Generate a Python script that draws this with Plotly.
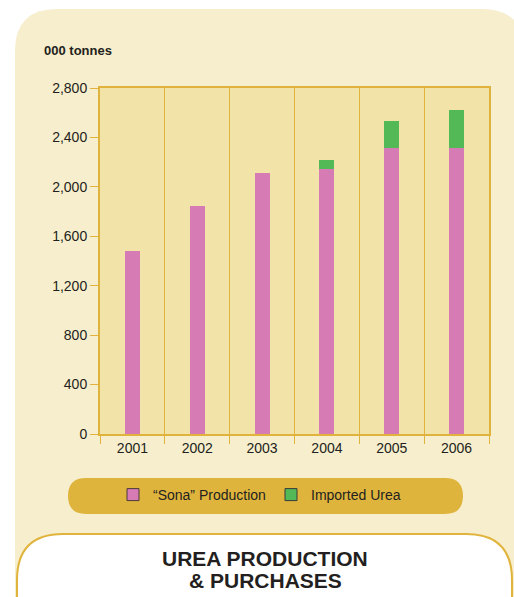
import plotly.graph_objects as go

years = ["2001", "2002", "2003", "2004", "2005", "2006"]
sona = [1480, 1845, 2112, 2144, 2314, 2314]
imported = [0, 0, 0, 73, 218, 307]
y_ticks = [0, 400, 800, 1200, 1600, 2000, 2400, 2800]

W, H = 514, 597
L, R, T, B = 100, 25, 88, 163
PINK = "#D67BB3"
GREEN = "#52B956"
GOLD = "#E0B43C"
CREAM = "#F7EECD"
PLOT_BG = "#F2E3A9"
TXT = "#231F20"


def px(x, y):
    # pixel position -> paper coordinates
    return (x - L) / (W - L - R), (H - B - y) / (H - T - B)


def rounded(x0, y0, x1, y1, r):
    pts = [
        ("M", [(x0 + r, y0)]), ("L", [(x1 - r, y0)]), ("Q", [(x1, y0), (x1, y0 + r)]),
        ("L", [(x1, y1 - r)]), ("Q", [(x1, y1), (x1 - r, y1)]), ("L", [(x0 + r, y1)]),
        ("Q", [(x0, y1), (x0, y1 - r)]), ("L", [(x0, y0 + r)]), ("Q", [(x0, y0), (x0 + r, y0)]),
    ]
    out = ""
    for cmd, ps in pts:
        out += cmd + " ".join(f"{px(a, b)[0]:.5f},{px(a, b)[1]:.5f}" for a, b in ps) + " "
    return out + "Z"


fig = go.Figure()
fig.add_trace(go.Bar(x=years, y=sona, marker=dict(color=PINK, line=dict(width=0)), width=0.23,
                     showlegend=False, name="“Sona” Production"))
fig.add_trace(go.Bar(x=years, y=imported, marker=dict(color=GREEN, line=dict(width=0)), width=0.23,
                     showlegend=False, name="Imported Urea"))
# legend entries with outlined swatches
fig.add_trace(go.Bar(x=[None], y=[None], name="“Sona” Production",
                     marker=dict(color=PINK, line=dict(color="#4a3a3a", width=1))))
fig.add_trace(go.Bar(x=[None], y=[None], name="Imported Urea",
                     marker=dict(color=GREEN, line=dict(color="#3a3a3a", width=1))))

shapes = [
    dict(type="path", path=rounded(15, 9, 524, 640, 42), xref="paper", yref="paper",
         fillcolor=CREAM, line=dict(width=0), layer="below"),
    dict(type="rect", x0=0, x1=1, y0=0, y1=1, xref="paper", yref="paper",
         fillcolor=PLOT_BG, line=dict(width=0), layer="below"),
    dict(type="path", path=rounded(68, 478, 463, 514, 18), xref="paper", yref="paper",
         fillcolor="#DFB43D", line=dict(width=0), layer="below"),
    dict(type="path", path=rounded(17, 534, 512, 640, 46), xref="paper", yref="paper",
         fillcolor="white", line=dict(color=GOLD, width=2), layer="below"),
]

ax, ay = px(42, 50)
t1x, t1y = px(265, 558)
t2x, t2y = px(265, 580)
lx, ly = px(271, 495)

fig.update_layout(
    width=W, height=H,
    margin=dict(l=L, r=R, t=T, b=B),
    paper_bgcolor="white",
    plot_bgcolor="rgba(0,0,0,0)",
    barmode="stack",
    font=dict(family="Liberation Sans, Arial", color=TXT, size=14),
    shapes=shapes,
    xaxis=dict(type="category", tickson="boundaries", ticks="outside", ticklen=8, tickcolor=GOLD,
               showgrid=True, gridcolor=GOLD, gridwidth=1, showline=True, linecolor=GOLD, linewidth=2,
               mirror=True, tickfont=dict(size=14, color=TXT)),
    yaxis=dict(range=[0, 2800], tickvals=y_ticks, tickformat=",", ticks="outside", ticklen=8,
               tickcolor=GOLD, showgrid=False, zeroline=False, showline=True, linecolor=GOLD,
               linewidth=2, mirror=True, tickfont=dict(size=14, color=TXT)),
    legend=dict(orientation="h", x=lx, y=ly, xanchor="center", yanchor="middle", traceorder="normal",
                bgcolor="rgba(0,0,0,0)", font=dict(size=14, color=TXT), entrywidth=113),
    annotations=[
        dict(text="<b>000 tonnes</b>", x=ax, y=ay, xref="paper", yref="paper", xanchor="left",
             yanchor="middle", showarrow=False, font=dict(size=13, color=TXT)),
        dict(text="<b>UREA PRODUCTION</b>", x=t1x, y=t1y, xref="paper", yref="paper",
             xanchor="center", yanchor="middle", showarrow=False, font=dict(size=21, color=TXT)),
        dict(text="<b>& PURCHASES</b>", x=t2x, y=t2y, xref="paper", yref="paper",
             xanchor="center", yanchor="middle", showarrow=False, font=dict(size=21, color=TXT)),
    ],
)

fig.write_html("out.html", config={"displayModeBar": False},
               post_script="document.body.style.margin='0';document.body.style.overflow='hidden';")
